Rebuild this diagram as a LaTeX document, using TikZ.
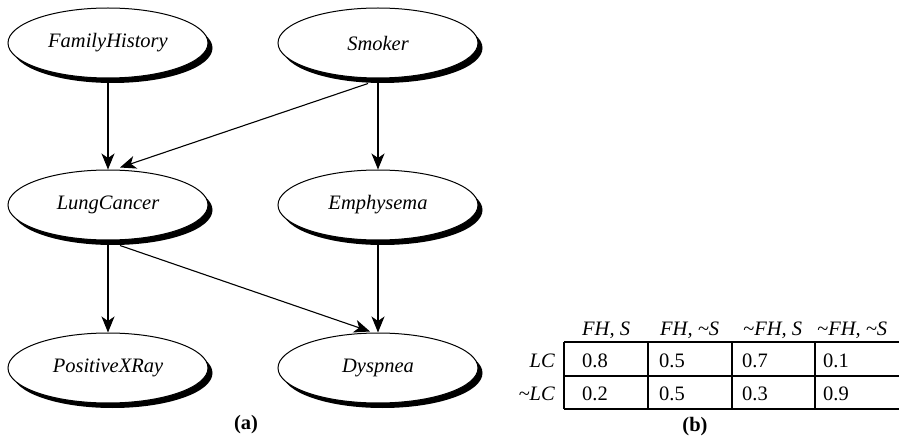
\documentclass[tikz,border=0pt]{standalone}
\usepackage{fontspec}
\setmainfont{Liberation Serif}
\usetikzlibrary{shapes.geometric,shadows,arrows.meta}
\newcommand{\fsz}{\fontsize{20.5}{24}\selectfont}
\begin{document}
\begin{tikzpicture}[x=1pt,y=-1pt,
  bnode/.style={ellipse, draw=black, line width=1pt, fill=white,
    minimum width=200pt, minimum height=70pt, inner sep=0pt,
    font=\fsz\itshape,
    drop shadow={shadow xshift=4.5pt, shadow yshift=-5pt, fill=black, opacity=1}},
  arr/.style={line width=1.1pt, -{Stealth[length=16pt,width=13pt,inset=4.5pt]}},
  tline/.style={line width=1.2pt},
  hdr/.style={anchor=base west, inner sep=0pt, font=\fsz\itshape},
  rowlab/.style={anchor=base east, inner sep=0pt, font=\fsz\itshape},
  val/.style={anchor=base west, inner sep=0pt, font=\fsz},
  captext/.style={anchor=center, inner sep=0pt, font=\fsz\bfseries}
]
\useasboundingbox (0,0) rectangle (899,438);

% Bayesian network nodes
\node[bnode] (fh) at (108,43) {FamilyHistory};
\node[bnode] (sm) at (378,43) {Smoker};
\node[bnode] (lc) at (108,205) {LungCancer};
\node[bnode] (em) at (378,205) {Emphysema};
\node[bnode] (px) at (108,368) {PositiveXRay};
\node[bnode] (dy) at (378,368) {Dyspnea};

% connectors
\draw[arr] ([yshift=-5pt]fh.south) -- (lc.north);
\draw[arr] ([shift={(-10pt,-5pt)}]sm.south) -- ([shift={(12pt,2pt)}]lc.north);
\draw[arr] ([yshift=-5pt]sm.south) -- (em.north);
\draw[arr] ([yshift=-5pt]lc.south) -- (px.north);
\draw[arr] ([shift={(12pt,-5pt)}]lc.south) -- ([shift={(-8pt,1pt)}]dy.north);
\draw[arr] ([yshift=-5pt]em.south) -- (dy.north);

\node[captext] (capa) at (246,425) {(a)};

% table
\draw[tline] (564,342) -- (899,342);
\draw[tline] (564,376) -- (899,376);
\draw[tline] (564,409) -- (899,409);
\draw[tline] (564,342) -- (564,409);
\draw[tline] (648,342) -- (648,409);
\draw[tline] (732,342) -- (732,409);
\draw[tline] (815,342) -- (815,409);

\node[hdr] (h1) at (582,335) {FH, S};
\node[hdr] (h2) at (660,335) {FH, \textasciitilde S};
\node[hdr] (h3) at (743,335) {\textasciitilde FH, S};
\node[hdr] (h4) at (817,335) {\textasciitilde FH, \textasciitilde S};

\node[rowlab] (r1) at (555,367) {LC};
\node[rowlab] (r2) at (555,400) {\textasciitilde LC};

\node[val] (v11) at (582,367) {0.8};
\node[val] (v12) at (659,367) {0.5};
\node[val] (v13) at (742,367) {0.7};
\node[val] (v14) at (823,367) {0.1};
\node[val] (v21) at (582,400) {0.2};
\node[val] (v22) at (659,400) {0.5};
\node[val] (v23) at (742,400) {0.3};
\node[val] (v24) at (823,400) {0.9};

\node[captext] (capb) at (695,427) {(b)};
\end{tikzpicture}
\end{document}
